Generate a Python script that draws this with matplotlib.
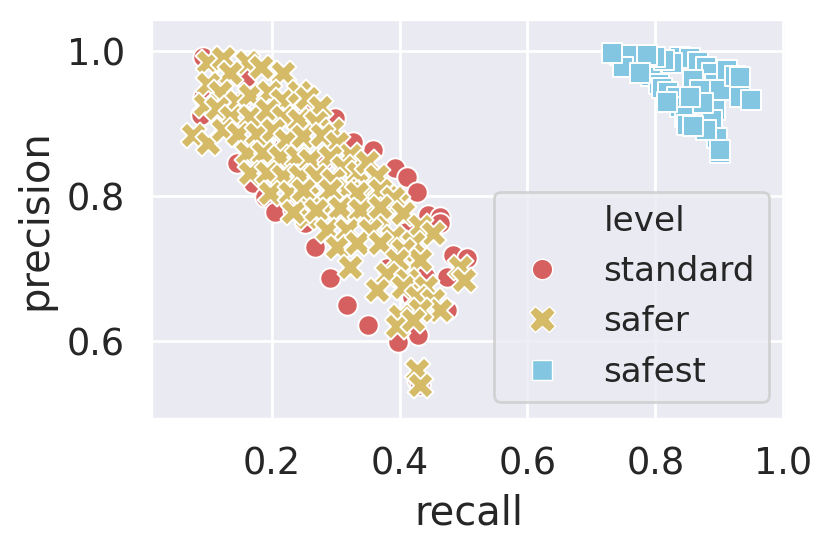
import numpy as np
import pandas as pd
import matplotlib
matplotlib.use("Agg")
import matplotlib.pyplot as plt
from matplotlib.lines import Line2D
import seaborn as sns

# values
standard_recall = [0.093, 0.090, 0.093, 0.146, 0.171, 0.190, 0.205, 0.299, 0.327, 0.358,
                   0.393, 0.412, 0.427, 0.445, 0.463, 0.160, 0.255, 0.233, 0.252, 0.268,
                   0.291, 0.318, 0.350, 0.398, 0.429, 0.427, 0.484, 0.505, 0.463, 0.474,
                   0.432, 0.474, 0.220, 0.280, 0.320, 0.360, 0.400, 0.380, 0.420, 0.150,
                   0.120, 0.200, 0.440, 0.410]
standard_precision = [0.992, 0.912, 0.937, 0.846, 0.818, 0.799, 0.778, 0.908, 0.874, 0.863,
                      0.839, 0.826, 0.806, 0.774, 0.771, 0.964, 0.923, 0.781, 0.763, 0.730,
                      0.687, 0.650, 0.622, 0.599, 0.608, 0.546, 0.719, 0.714, 0.763, 0.643,
                      0.539, 0.688, 0.870, 0.850, 0.800, 0.770, 0.720, 0.700, 0.660, 0.930,
                      0.950, 0.900, 0.690, 0.750]

safer_recall = [0.101, 0.124, 0.161, 0.184, 0.218, 0.135, 0.101, 0.119, 0.145, 0.166,
                0.195, 0.216, 0.242, 0.255, 0.276, 0.096, 0.114, 0.137, 0.166, 0.192,
                0.218, 0.242, 0.270, 0.294, 0.077, 0.101, 0.124, 0.148, 0.177, 0.202,
                0.223, 0.249, 0.278, 0.302, 0.322, 0.161, 0.187, 0.213, 0.239, 0.260,
                0.291, 0.312, 0.335, 0.349, 0.364, 0.380, 0.166, 0.192, 0.218, 0.244,
                0.270, 0.296, 0.317, 0.343, 0.369, 0.396, 0.197, 0.229, 0.255, 0.281,
                0.307, 0.333, 0.364, 0.255, 0.234, 0.249, 0.291, 0.333, 0.369, 0.390,
                0.270, 0.307, 0.338, 0.369, 0.406, 0.432, 0.453, 0.286, 0.317, 0.354,
                0.390, 0.421, 0.302, 0.333, 0.369, 0.406, 0.432, 0.322, 0.396, 0.380,
                0.411, 0.364, 0.406, 0.442, 0.495, 0.500, 0.427, 0.453, 0.463, 0.432,
                0.401, 0.396, 0.421, 0.427, 0.432]
safer_precision = [0.985, 0.990, 0.985, 0.978, 0.969, 0.969, 0.955, 0.944, 0.930, 0.939,
                   0.944, 0.932, 0.944, 0.935, 0.923, 0.926, 0.921, 0.909, 0.909, 0.919,
                   0.909, 0.905, 0.902, 0.891, 0.884, 0.873, 0.891, 0.886, 0.886, 0.891,
                   0.877, 0.882, 0.884, 0.873, 0.857, 0.859, 0.859, 0.854, 0.854, 0.850,
                   0.854, 0.840, 0.831, 0.847, 0.827, 0.799, 0.831, 0.831, 0.827, 0.827,
                   0.827, 0.822, 0.808, 0.804, 0.794, 0.790, 0.804, 0.804, 0.799, 0.785,
                   0.785, 0.781, 0.771, 0.771, 0.778, 0.808, 0.808, 0.804, 0.808, 0.797,
                   0.781, 0.783, 0.781, 0.785, 0.776, 0.758, 0.749, 0.753, 0.753, 0.753,
                   0.744, 0.735, 0.730, 0.735, 0.735, 0.726, 0.712, 0.702, 0.712, 0.693,
                   0.684, 0.670, 0.675, 0.675, 0.702, 0.684, 0.661, 0.657, 0.643, 0.643,
                   0.634, 0.620, 0.629, 0.560, 0.539]

safest_recall = [0.745, 0.763, 0.750, 0.787, 0.794, 0.805, 0.810, 0.820, 0.834, 0.839,
                 0.846, 0.849, 0.839, 0.854, 0.867, 0.880, 0.888, 0.893, 0.888, 0.901,
                 0.912, 0.925, 0.933, 0.933, 0.893, 0.888, 0.896, 0.901, 0.826, 0.813,
                 0.800, 0.787, 0.776, 0.859, 0.870, 0.875, 0.854, 0.880, 0.859, 0.732,
                 0.818, 0.949, 0.933, 0.901]
safest_precision = [0.994, 0.994, 0.978, 0.974, 0.965, 0.955, 0.949, 0.944, 0.937, 0.923,
                    0.909, 0.898, 0.992, 0.990, 0.985, 0.978, 0.969, 0.955, 0.939, 0.946,
                    0.974, 0.965, 0.951, 0.937, 0.919, 0.905, 0.880, 0.859, 0.983, 0.988,
                    0.992, 0.994, 0.969, 0.960, 0.946, 0.928, 0.937, 0.891, 0.896, 0.997,
                    0.930, 0.932, 0.964, 0.863]

levels = ["standard", "safer", "safest"]
colors = ["#d65f5f", "#d5bb67", "#82c6e2"]
marker_list = ["o", "X", "s"]
sizes = [54, 88, 54]

series = {
    "standard": (standard_recall, standard_precision),
    "safer": (safer_recall, safer_precision),
    "safest": (safest_recall, safest_precision),
}

sns.set_theme(style="darkgrid", font_scale=1.2)

fig = plt.figure(figsize=(4.15, 2.745), dpi=200)
ax = fig.add_axes([0.182, 0.2363, 0.7647, 0.7291])
for lev, c, m, s in zip(levels, colors, marker_list, sizes):
    rec, prec = series[lev]
    df = pd.DataFrame({"recall": rec, "precision": prec})
    sns.scatterplot(data=df, x="recall", y="precision", color=c, marker=m, s=s,
                    edgecolor="w", linewidth=0.7, ax=ax)

ax.set_xlim(0.0113, 1.004)
ax.set_ylim(0.492, 1.044)
ax.set_xticks([0.2, 0.4, 0.6, 0.8, 1.0])
ax.set_yticks([0.6, 0.8, 1.0])
ax.set_xlabel("recall")
ax.set_ylabel("precision")

handles = [Line2D([], [], linestyle="", marker="")]
for c, m, s in zip(colors, marker_list, sizes):
    handles.append(Line2D([], [], linestyle="", marker=m, color=c, markersize=np.sqrt(s),
                          markeredgecolor="w", markeredgewidth=0.5))
ax.legend(handles, ["level"] + levels, loc="lower right", fontsize=12.3)

fig.savefig("out.png", dpi=200)
